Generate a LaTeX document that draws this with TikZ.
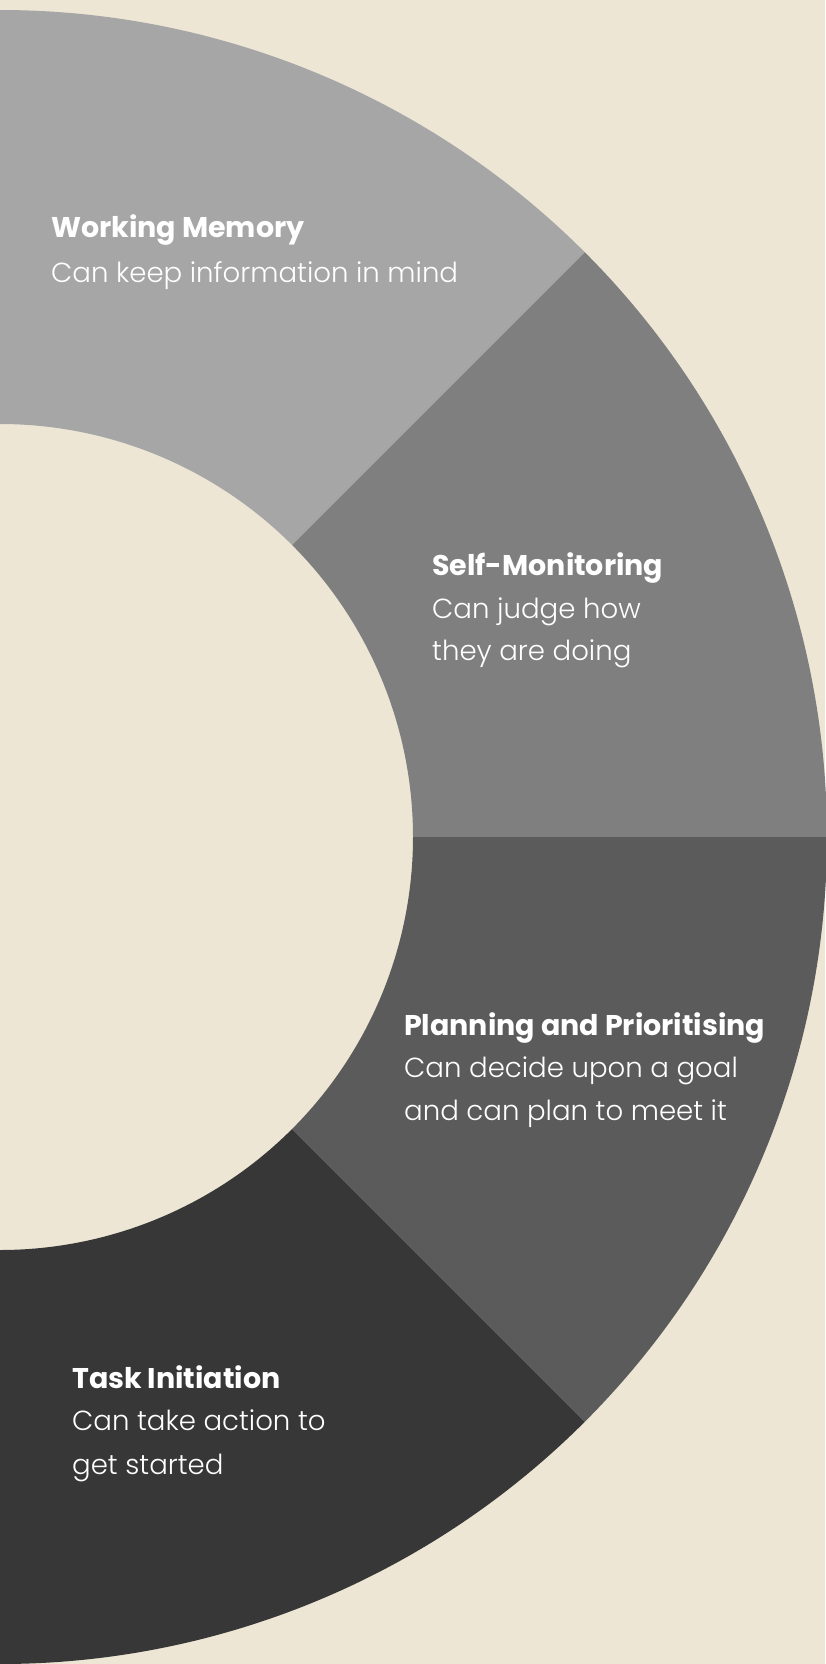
\documentclass[tikz,border=0pt]{standalone}
\usepackage{fontspec}
\usetikzlibrary{calc}
\setmainfont{Poppins}
\newfontfamily\headfont{Poppins}[UprightFont=* Bold]
\newfontfamily\bodyfont{Poppins Light}
\definecolor{bg}{HTML}{EEE6D5}
\definecolor{segA}{HTML}{A6A6A6}
\definecolor{segB}{HTML}{7F7F7F}
\definecolor{segC}{HTML}{5B5B5B}
\definecolor{segD}{HTML}{373737}
\tikzset{
  head/.style={anchor=base west, inner sep=0pt, text=white, font=\headfont\fontsize{28.5}{32}\selectfont},
  body/.style={anchor=base west, inner sep=0pt, text=white, font=\bodyfont\fontsize{27.6}{32}\selectfont},
}
\begin{document}
\begin{tikzpicture}[x=1pt,y=-1pt]
\fill[bg] (0,0) rectangle (825,1664);
\useasboundingbox (0,0) rectangle (825,1664);
\coordinate (c) at (0,837);
\def\Ro{827}
\def\Ri{413}
\fill[segA] ($(c)+(-90:\Ro)$) arc[start angle=-90, end angle=-45, radius=\Ro] -- ($(c)+(-45:\Ri)$) arc[start angle=-45, end angle=-90, radius=\Ri] -- cycle;
\fill[segB] ($(c)+(-45:\Ro)$) arc[start angle=-45, end angle=0, radius=\Ro] -- ($(c)+(0:\Ri)$) arc[start angle=0, end angle=-45, radius=\Ri] -- cycle;
\fill[segC] ($(c)+(0:\Ro)$) arc[start angle=0, end angle=45, radius=\Ro] -- ($(c)+(45:\Ri)$) arc[start angle=45, end angle=0, radius=\Ri] -- cycle;
\fill[segD] ($(c)+(45:\Ro)$) arc[start angle=45, end angle=90, radius=\Ro] -- ($(c)+(90:\Ri)$) arc[start angle=90, end angle=45, radius=\Ri] -- cycle;
\node[head] (wmh) at (51,237) {Working Memory};
\node[body] (wmb) at (51,282) {Can keep information in mind};
\node[head] (smh) at (432,575) {Self-Monitoring};
\node[body] (smb1) at (432,618) {Can judge how};
\node[body] (smb2) at (432,660) {they are doing};
\node[head] (pph) at (404,1035) {Planning and Prioritising};
\node[body] (ppb1) at (404,1077) {Can decide upon a goal};
\node[body] (ppb2) at (404,1120) {and can plan to meet it};
\node[head] (tih) at (72,1388) {Task Initiation};
\node[body] (tib1) at (72,1430) {Can take action to};
\node[body] (tib2) at (72,1474) {get started};
\end{tikzpicture}
\end{document}
